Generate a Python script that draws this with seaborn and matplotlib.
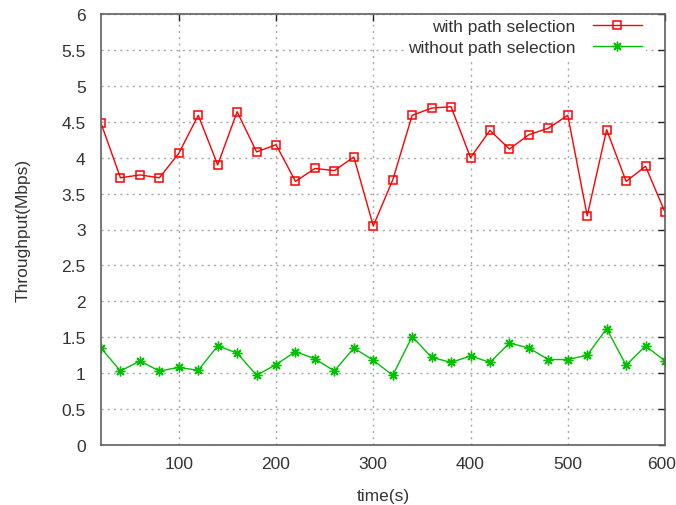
import matplotlib
matplotlib.use("Agg")
import matplotlib.pyplot as plt
import matplotlib.transforms as mtransforms
import seaborn as sns
import pandas as pd
import numpy as np

time_s = [20, 40, 60, 80, 100, 120, 140, 160, 180, 200, 220, 240, 260, 280, 300,
          320, 340, 360, 380, 400, 420, 440, 460, 480, 500, 520, 540, 560, 580, 600]
with_sel = [4.48, 3.72, 3.76, 3.72, 4.06, 4.59, 3.90, 4.64, 4.08, 4.18,
            3.67, 3.85, 3.82, 4.01, 3.05, 3.69, 4.59, 4.69, 4.71, 4.00,
            4.38, 4.12, 4.32, 4.41, 4.59, 3.19, 4.39, 3.67, 3.88, 3.24]
without_sel = [1.35, 1.03, 1.17, 1.03, 1.08, 1.04, 1.38, 1.28, 0.97, 1.12,
               1.30, 1.20, 1.03, 1.35, 1.18, 0.97, 1.51, 1.22, 1.15, 1.24,
               1.15, 1.42, 1.35, 1.19, 1.19, 1.25, 1.62, 1.11, 1.38, 1.17]
series_names = ["with path selection", "without path selection"]
x_ticks = [100, 200, 300, 400, 500, 600]
y_ticks = [0, 0.5, 1, 1.5, 2, 2.5, 3, 3.5, 4, 4.5, 5, 5.5, 6]
y_labels = ["0", "0.5", "1", "1.5", "2", "2.5", "3", "3.5", "4", "4.5", "5", "5.5", "6"]

sns.set_style("white")
plt.rcParams['font.family'] = ['Liberation Sans', 'DejaVu Sans']

df = pd.DataFrame({"time": time_s * 2,
                   "thr": with_sel + without_sel,
                   "series": [series_names[0]] * len(time_s) + [series_names[1]] * len(time_s)})

W, H = 676, 506
fig = plt.figure(figsize=(W / 100, H / 100), dpi=100)
ax = fig.add_axes([101 / W, 1 - 446 / H, (665 - 101) / W, (446 - 15) / H])

red = "#FF0000"
green = "#00C000"
fs = 12.5
txt = "#333333"
sns.lineplot(data=df[df.series == series_names[0]], x="time", y="thr", ax=ax,
             color=red, lw=1, marker="s", markersize=5.5, markerfacecolor="none",
             markeredgecolor=red, markeredgewidth=1.1, label=series_names[0])
sns.lineplot(data=df[df.series == series_names[1]], x="time", y="thr", ax=ax,
             color=green, lw=1, marker=(8, 2, 0), markersize=7,
             markeredgecolor=green, markeredgewidth=1.0, label=series_names[1])

ax.set_xlim(20, 600)
ax.set_ylim(0, 6)
ax.set_xticks(x_ticks)
ax.set_yticks(y_ticks)
ax.set_yticklabels(y_labels)
ax.grid(True, color="#A8A8A8", linestyle=(0, (1.5, 3)), lw=1)
ax.tick_params(axis="y", direction="in", length=5, width=1, right=True,
               labelsize=fs, colors="#222222", labelcolor=txt, pad=11)
ax.tick_params(axis="x", direction="in", length=5, width=1, top=True,
               labelsize=fs, colors="#222222", labelcolor=txt, pad=8)
for s in ax.spines.values():
    s.set_color("#606060")
    s.set_linewidth(1.2)
ax.set_xlabel("time(s)", fontsize=fs, color=txt, labelpad=12)
ax.set_ylabel("Throughput(Mbps)", fontsize=fs, color=txt, labelpad=22)

# nudge the last x label slightly left to stay inside the canvas
last = ax.get_xticklabels()[-1]
last.set_transform(last.get_transform() + mtransforms.ScaledTranslation(-3 / 100, 0, fig.dpi_scale_trans))

leg = ax.legend(loc="upper right", bbox_to_anchor=((646 - 101) / 564, (446 - 16) / 431),
                markerfirst=False, frameon=True, fancybox=False,
                edgecolor="white", framealpha=1, fontsize=fs, handlelength=2.8,
                borderaxespad=0, labelspacing=0.3, handletextpad=1.0,
                borderpad=0.25)
leg.get_frame().set_linewidth(0)
for t in leg.get_texts():
    t.set_ha("right")
    t.set_color(txt)
leg._legend_box.align = "right"

fig.savefig("out.png", dpi=100)
